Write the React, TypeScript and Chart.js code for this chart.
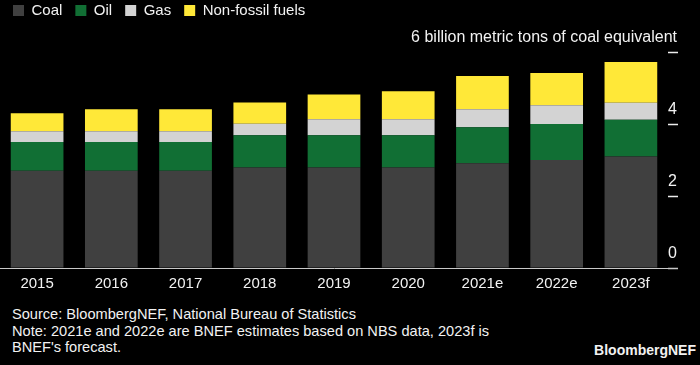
import React, { useEffect, useRef } from "react";
import { Chart, registerables } from "chart.js";

Chart.register(...registerables);

const categories = ["2015", "2016", "2017", "2018", "2019", "2020", "2021e", "2022e", "2023f"];
const coal = [2.7, 2.7, 2.7, 2.79, 2.79, 2.79, 2.91, 3.0, 3.1];
const oil = [0.8, 0.8, 0.8, 0.9, 0.9, 0.9, 1.0, 1.0, 1.02];
const gas = [0.3, 0.3, 0.3, 0.32, 0.44, 0.44, 0.5, 0.52, 0.47];
const nonFossil = [0.5, 0.61, 0.61, 0.59, 0.69, 0.78, 0.92, 0.9, 1.13];
const yTicks = [0, 2, 4, 6];
const yUnitLabel = "6 billion metric tons of coal equivalent";

const FONT = "'Liberation Sans', Arial, sans-serif";
const TEXT = "#f2f2f2";

export default function App() {
  const canvasRef = useRef<HTMLCanvasElement | null>(null);

  useEffect(() => {
    document.body.style.margin = "0";
    document.body.style.background = "#000";
    const canvas = canvasRef.current;
    if (!canvas) return;

    const mk = (label: string, data: number[], color: string) => ({
      label,
      data,
      backgroundColor: color,
      borderWidth: 0,
      barPercentage: 0.71,
      categoryPercentage: 1,
    });

    const chart = new Chart(canvas, {
      type: "bar",
      data: {
        labels: categories,
        datasets: [
          mk("Coal", coal, "#404040"),
          mk("Oil", oil, "#116f34"),
          mk("Gas", gas, "#d3d3d3"),
          mk("Non-fossil fuels", nonFossil, "#ffe838"),
        ],
      },
      options: {
        responsive: true,
        maintainAspectRatio: false,
        animation: false,
        layout: { padding: { top: -10, left: 0, right: 22, bottom: 0 } },
        plugins: {
          legend: {
            position: "top",
            align: "start",
            labels: {
              boxWidth: 11,
              boxHeight: 11,
              padding: 13,
              color: TEXT,
              font: { family: FONT, size: 15 },
            },
          },
          title: {
            display: true,
            text: "",
            weight: 500,
            font: { size: 1, lineHeight: 1 },
            padding: { top: 23, bottom: 0 },
          },
          tooltip: { enabled: false },
        },
        scales: {
          x: {
            stacked: true,
            grid: { display: false, drawTicks: false },
            border: { display: true, color: "#c8c8c8", width: 1, z: 1 },
            ticks: { color: TEXT, font: { family: FONT, size: 15 }, padding: 7, maxRotation: 0 },
          },
          y: {
            stacked: true,
            position: "right",
            min: 0,
            max: 6,
            afterBuildTicks(scale: any) {
              scale.ticks = yTicks.map((v) => ({ value: v }));
            },
            afterFit(scale: any) {
              scale.width = 10;
            },
            border: { display: false },
            grid: {
              display: true,
              drawOnChartArea: false,
              drawTicks: true,
              tickLength: 10,
              tickWidth: 1.5,
              color: "#e6e6e6",
              tickColor: (ctx: any) => (ctx.tick && ctx.tick.value === 0 ? "#c8c8c8" : "#ececec"),
            },
            ticks: {
              mirror: true,
              padding: 9,
              labelOffset: -14,
              color: TEXT,
              font: { family: FONT, size: 16 },
              callback: (v: any) => (Number(v) === 6 ? yUnitLabel : String(v)),
            },
          },
        },
      },
    });
    return () => chart.destroy();
  }, []);

  const foot: React.CSSProperties = {
    position: "absolute",
    left: 12,
    color: TEXT,
    fontFamily: FONT,
    fontSize: 14.6,
    lineHeight: "16.7px",
    whiteSpace: "nowrap",
  };

  return (
    <div style={{ position: "relative", width: 700, height: 365, background: "#000", overflow: "hidden" }}>
      <div style={{ position: "absolute", left: 0, top: 0, width: 700, height: 300 }}>
        <canvas ref={canvasRef} />
      </div>
      <div style={{ ...foot, top: 306 }}>
        Source: BloombergNEF, National Bureau of Statistics
        <br />
        Note: 2021e and 2022e are BNEF estimates based on NBS data, 2023f is
        <br />
        BNEF's forecast.
      </div>
      <div
        style={{
          position: "absolute",
          right: 4,
          top: 342,
          color: TEXT,
          fontFamily: FONT,
          fontSize: 14,
          fontWeight: 700,
          lineHeight: "16px",
        }}
      >
        BloombergNEF
      </div>
    </div>
  );
}
